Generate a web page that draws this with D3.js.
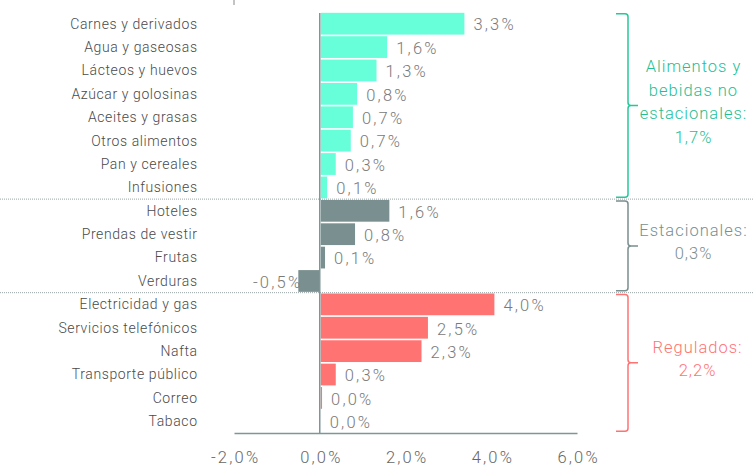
<!DOCTYPE html>
<html lang="es">
<head>
    <meta charset="utf-8">
    <title>Inflación por rubro</title>
    <script src="https://d3js.org/d3.v7.min.js"></script>
    <style>
        body { margin: 0; background: #fff; }
        svg text { font-family: Roboto, "Liberation Sans", sans-serif; font-weight: 300; }
    </style>
</head>
<body>
    <div id="chart"></div>
    <script>
        // Data
        const categories = ["Carnes y derivados", "Agua y gaseosas", "Lácteos y huevos", "Azúcar y golosinas",
            "Aceites y grasas", "Otros alimentos", "Pan y cereales", "Infusiones",
            "Hoteles", "Prendas de vestir", "Frutas", "Verduras",
            "Electricidad y gas", "Servicios telefónicos", "Nafta", "Transporte público", "Correo", "Tabaco"];
        const values = [3.35, 1.55, 1.3, 0.85, 0.75, 0.7, 0.35, 0.15,
            1.6, 0.8, 0.1, -0.5,
            4.05, 2.5, 2.35, 0.35, 0.03, 0.0];
        const valueLabels = ["3,3%", "1,6%", "1,3%", "0,8%", "0,7%", "0,7%", "0,3%", "0,1%",
            "1,6%", "0,8%", "0,1%", "-0,5%",
            "4,0%", "2,5%", "2,3%", "0,3%", "0,0%", "0,0%"];
        const groupOf = [0, 0, 0, 0, 0, 0, 0, 0, 1, 1, 1, 1, 2, 2, 2, 2, 2, 2];
        const groupNames = [["Alimentos y", "bebidas no", "estacionales:", "1,7%"], ["Estacionales:", "0,3%"], ["Regulados:", "2,2%"]];
        const tickValues = [-2, 0, 2, 4, 6];

        // Dimensions
        const width = 753, height = 466;
        const barColor = ["#66ffd9", "#7a8f8f", "#ff7373"];
        const textColor = ["#1fc094", "#7a8f8f", "#ff7373"];
        const braceColor = ["#26c79a", "#7a8f8f", "#ff7373"];

        const svg = d3.select("#chart").append("svg")
            .attr("width", width)
            .attr("height", height);

        // Scales
        const x = d3.scaleLinear().domain([-2, 6]).range([234, 577]);
        const y = d3.scaleBand().domain(categories).range([12, 433]).paddingInner(0.07).paddingOuter(0.035);

        // Separators between groups
        const step = y.step();
        [8, 12].forEach(i => {
            const yy = 12 + i * step;
            svg.append("line")
                .attr("x1", 0).attr("x2", width)
                .attr("y1", yy).attr("y2", yy)
                .attr("stroke", "#9aa5a5")
                .attr("stroke-width", 1)
                .attr("stroke-dasharray", "1,1");
        });

        // Bars
        svg.selectAll("rect.bar")
            .data(categories)
            .join("rect")
            .attr("class", "bar")
            .attr("x", (d, i) => x(Math.min(0, values[i])) + (values[i] >= 0 ? 1 : 0))
            .attr("y", d => y(d))
            .attr("width", (d, i) => Math.abs(x(values[i]) - x(0)))
            .attr("height", y.bandwidth())
            .attr("fill", (d, i) => barColor[groupOf[i]]);

        // Category labels
        svg.selectAll("text.cat")
            .data(categories)
            .join("text")
            .attr("class", "cat")
            .attr("x", 197.6)
            .attr("y", d => y(d) + y.bandwidth() / 2)
            .attr("dy", "0.35em")
            .attr("text-anchor", "end")
            .attr("font-size", "14px")
            .attr("letter-spacing", "0.6px")
            .attr("fill", "#4a4a4a")
            .text(d => d);

        // Value labels
        svg.selectAll("text.val")
            .data(categories)
            .join("text")
            .attr("class", "val")
            .attr("x", (d, i) => values[i] < 0 ? x(values[i]) + 4 : x(values[i]) + 10)
            .attr("y", d => y(d) + y.bandwidth() / 2 + 1)
            .attr("dy", "0.35em")
            .attr("text-anchor", (d, i) => values[i] < 0 ? "end" : "start")
            .attr("font-size", "16.5px")
            .attr("letter-spacing", "2.2px")
            .attr("fill", "#7a7a7a")
            .text((d, i) => valueLabels[i]);

        // Zero line
        svg.append("line")
            .attr("x1", x(0)).attr("x2", x(0))
            .attr("y1", 13).attr("y2", 433)
            .attr("stroke", "#7f9696")
            .attr("stroke-width", 1.5);

        // Small tick at the top
        svg.append("line")
            .attr("x1", x(-2)).attr("x2", x(-2))
            .attr("y1", 0).attr("y2", 5)
            .attr("stroke", "#888");

        // Axis
        const axis = svg.append("g")
            .attr("transform", "translate(0,433)")
            .call(d3.axisBottom(x).tickValues(tickValues).tickSize(0).tickPadding(18)
                .tickFormat(d => d3.format(".1f")(d).replace(".", ",").replace("−", "-") + "%"));
        axis.select(".domain").attr("stroke", "#7f9696").attr("stroke-width", 1.5);
        axis.selectAll("text")
            .attr("font-size", "16.5px")
            .attr("letter-spacing", "2.2px")
            .attr("dx", "1.1px")
            .attr("fill", "#666");

        // Braces and group labels
        const bx = 628;
        [0, 1, 2].forEach(g => {
            const idx = groupOf.map((v, i) => v === g ? i : -1).filter(i => i >= 0);
            const top = y(categories[idx[0]]) + 1;
            const bot = y(categories[idx[idx.length - 1]]) + y.bandwidth() - 1;
            const mid = (top + bot) / 2;
            const p = d3.path();
            p.moveTo(bx - 12, top);
            p.lineTo(bx - 3, top);
            p.quadraticCurveTo(bx, top, bx, top + 3);
            p.lineTo(bx, mid - 3);
            p.quadraticCurveTo(bx, mid, bx + 3, mid);
            p.lineTo(bx + 10, mid);
            p.moveTo(bx + 3, mid);
            p.quadraticCurveTo(bx, mid, bx, mid + 3);
            p.lineTo(bx, bot - 3);
            p.quadraticCurveTo(bx, bot, bx - 3, bot);
            p.lineTo(bx - 12, bot);
            svg.append("path")
                .attr("d", p.toString())
                .attr("fill", "none")
                .attr("stroke", braceColor[g])
                .attr("stroke-width", 1.5);

            const lines = groupNames[g];
            const lh = 23.5;
            const cy = mid - 4;
            const cx = g === 2 ? 697 : 693;
            svg.append("text")
                .attr("text-anchor", "middle")
                .attr("font-size", "16.5px")
                .attr("letter-spacing", "1px")
                .attr("fill", textColor[g])
                .selectAll("tspan")
                .data(lines)
                .join("tspan")
                .attr("x", cx + 0.5)
                .attr("y", (d, i) => cy + (i - (lines.length - 1) / 2) * lh)
                .attr("dy", "0.35em")
                .text(d => d);
        });
    </script>
</body>
</html>
